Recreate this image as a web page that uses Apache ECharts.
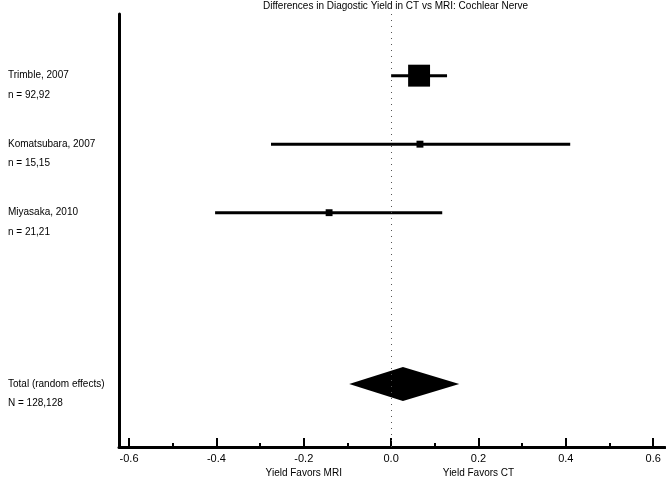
<!DOCTYPE html>
<html><head><meta charset="utf-8">
<script src="https://cdn.jsdelivr.net/npm/echarts@6/dist/echarts.min.js"></script>
<style>html,body{margin:0;padding:0;background:#fff}#c{width:666px;height:479px}</style>
</head><body><div id="c"></div>
<script>
var studyNames = ['Trimble, 2007', 'Komatsubara, 2007', 'Miyasaka, 2010'];
var studyN = ['n = 92,92', 'n = 15,15', 'n = 21,21'];
var estimates = [0.064, 0.066, -0.142];
var lowerCI = [0.0, -0.275, -0.403];
var upperCI = [0.128, 0.41, 0.117];
var weights = [83.5, 8.3, 8.2];
var totalName = 'Total (random effects)';
var totalN = 'N = 128,128';
var totalEst = 0.027;
var totalLo = -0.096;
var totalHi = 0.156;
var majorTicks = [-0.6, -0.4, -0.2, 0.0, 0.2, 0.4, 0.6];
var minorTicks = [-0.5, -0.3, -0.1, 0.1, 0.3, 0.5];
var sideLabels = ['Yield Favors MRI', 'Yield Favors CT'];
var sideLabelAt = [-0.2, 0.2];

var totalRow = studyNames.length + 2.5;
var rowVals = studyNames.map(function(_, i){ return i + 1; }).concat([totalRow]);
var rowNames = studyNames.concat([totalName]);
var rowN = studyN.concat([totalN]);

var chart = echarts.init(document.getElementById('c'));
var font = '"Liberation Sans", Arial, sans-serif';
var xMin = -0.623, xMax = 0.627;
chart.setOption({
  animation: false,
  title: {
    text: 'Differences in Diagostic Yield in CT vs MRI: Cochlear Nerve',
    left: 258, top: -4,
    textStyle: {fontSize: 10, fontWeight: 'normal', color: '#000', fontFamily: font}
  },
  grid: {left: 119, right: 1, top: 14, bottom: 32},
  xAxis: [{
    type: 'value', min: xMin, max: xMax, position: 'bottom',
    axisLine: {show: true, onZero: false, lineStyle: {color: '#000', width: 3}},
    axisTick: {show: true, inside: true, length: 9, customValues: majorTicks, lineStyle: {color: '#000', width: 2}},
    axisLabel: {show: true, customValues: majorTicks, margin: 6, fontSize: 11, color: '#000', fontFamily: font,
      formatter: function(v){ return v.toFixed(1); }},
    splitLine: {show: false}
  }, {
    type: 'value', min: xMin, max: xMax, position: 'bottom',
    axisLine: {show: false},
    axisTick: {show: true, inside: true, length: 4, customValues: minorTicks, lineStyle: {color: '#000', width: 2}},
    axisLabel: {show: false},
    splitLine: {show: false}
  }, {
    type: 'value', min: xMin, max: xMax, position: 'bottom',
    axisLine: {show: false},
    axisTick: {show: false},
    axisLabel: {show: true, customValues: sideLabelAt, margin: 21, fontSize: 10, color: '#000', fontFamily: font,
      formatter: function(v){ var i = sideLabelAt.indexOf(v); return i >= 0 ? sideLabels[i] : ''; }},
    splitLine: {show: false}
  }],
  yAxis: {
    type: 'value', inverse: true, min: 0.1, max: 6.42,
    axisLine: {show: true, onZero: false, lineStyle: {color: '#000', width: 3}},
    axisTick: {show: false},
    splitLine: {show: false},
    axisLabel: {
      show: true, customValues: rowVals, align: 'left', margin: 111, verticalAlign: 'middle',
      fontFamily: font, color: '#000',
      formatter: function(v){
        var i = rowVals.indexOf(v);
        if (i < 0) return '';
        return '{e| }\n{a|' + rowNames[i] + '}\n{b|' + rowN[i] + '}';
      },
      rich: {
        e: {fontSize: 10, lineHeight: 19.5, fontFamily: font},
        a: {fontSize: 10, lineHeight: 19.5, color: '#000', fontFamily: font},
        b: {fontSize: 10, lineHeight: 19.5, color: '#000', fontFamily: font}
      }
    }
  },
  series: [{
    type: 'line', data: [], silent: true,
    markLine: {
      silent: true, symbol: 'none', label: {show: false},
      lineStyle: {color: '#555', width: 1, type: [1, 5]},
      data: [{xAxis: 0}]
    }
  }, {
    type: 'custom',
    data: studyNames.map(function(_, i){ return [i + 1, lowerCI[i], upperCI[i], estimates[i], weights[i]]; }),
    renderItem: function(params, api){
      var row = api.value(0);
      var p1 = api.coord([api.value(1), row]);
      var p2 = api.coord([api.value(2), row]);
      var pc = api.coord([api.value(3), row]);
      var s = 24 * Math.sqrt(api.value(4) / 100);
      return {type: 'group', children: [
        {type: 'line', shape: {x1: p1[0], y1: p1[1], x2: p2[0], y2: p2[1]}, style: {stroke: '#000', lineWidth: 3}},
        {type: 'rect', shape: {x: pc[0] - s / 2, y: pc[1] - s / 2, width: s, height: s}, style: {fill: '#000'}}
      ]};
    }
  }, {
    type: 'custom',
    data: [[totalRow, totalLo, totalHi, totalEst]],
    renderItem: function(params, api){
      var row = api.value(0);
      var pl = api.coord([api.value(1), row]);
      var pr = api.coord([api.value(2), row]);
      var pc = api.coord([api.value(3), row]);
      var h = 17;
      return {type: 'polygon', shape: {points: [[pl[0], pl[1]], [pc[0], pc[1] - h], [pr[0], pr[1]], [pc[0], pc[1] + h]]}, style: {fill: '#000'}};
    }
  }]
});
</script></body></html>
